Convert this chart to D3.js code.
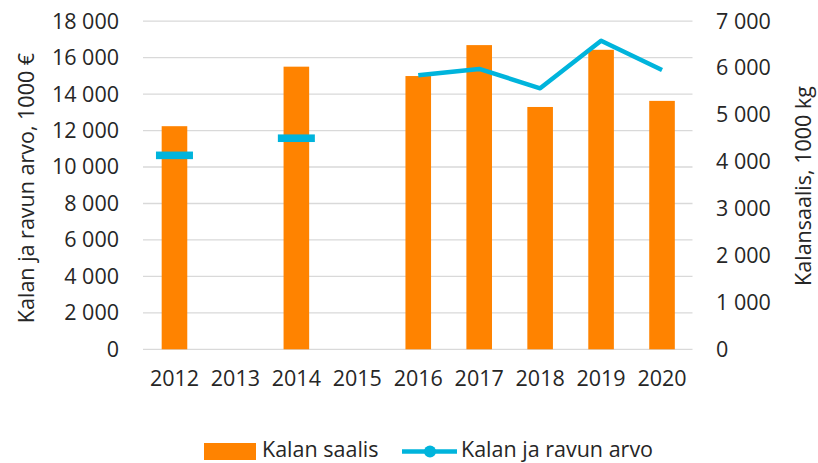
<!DOCTYPE html>
<html lang="fi">
<head>
<meta charset="utf-8">
<title>Kalan saalis ja arvo</title>
<script src="https://d3js.org/d3.v7.min.js"></script>
<style>
  body { margin: 0; background: #fff; }
  text { font-family: "Open Sans", "Noto Sans", sans-serif; fill: #262626; }
</style>
</head>
<body>
<div id="chart"></div>
<script>
// data
var years = ["2012", "2013", "2014", "2015", "2016", "2017", "2018", "2019", "2020"];
var catch1000kg = [4760, null, 6030, null, 5830, 6490, 5170, 6390, 5300];   // Kalan saalis (right axis)
var value1000eur = [10640, null, 11580, null, 15030, 15380, 14320, 16930, 15320]; // Kalan ja ravun arvo (left axis)
var leftTicks = [0, 2000, 4000, 6000, 8000, 10000, 12000, 14000, 16000, 18000];
var rightTicks = [0, 1000, 2000, 3000, 4000, 5000, 6000, 7000];

var width = 818, height = 463;
var orange = "#ff8300", blue = "#00b4dc";
var fs = "21.5px";

var svg = d3.select("#chart").append("svg")
  .attr("width", width).attr("height", height);

var x = d3.scaleBand().domain(years).range([144, 692.5]).paddingInner(0.58).paddingOuter(0.29);
var yL = d3.scaleLinear().domain([0, 18000]).range([349.3, 21.2]);
var yR = d3.scaleLinear().domain([0, 7000]).range([349.3, 21.2]);

var fmt = function (d) { return d3.format(",")(d).replace(/,/g, " "); };

// gridlines
svg.append("g").selectAll("line").data(leftTicks).enter().append("line")
  .attr("x1", 143).attr("x2", 692.5)
  .attr("y1", function (d) { return yL(d); }).attr("y2", function (d) { return yL(d); })
  .attr("stroke", "#d9d9d9").attr("stroke-width", 1.3);

// left axis
var gl = svg.append("g").attr("transform", "translate(119,0)")
  .call(d3.axisLeft(yL).tickValues(leftTicks).tickFormat(fmt).tickSize(0).tickPadding(0));
gl.select(".domain").remove();
gl.selectAll("text").style("font-size", fs).attr("fill", "#262626");

// right axis
var gr = svg.append("g").attr("transform", "translate(716,0)")
  .call(d3.axisRight(yR).tickValues(rightTicks).tickFormat(fmt).tickSize(0).tickPadding(0));
gr.select(".domain").remove();
gr.selectAll("text").style("font-size", fs).attr("fill", "#262626");

// x axis labels
var gx = svg.append("g").attr("transform", "translate(0,371)")
  .call(d3.axisBottom(x).tickSize(0).tickPadding(0));
gx.select(".domain").remove();
gx.selectAll("text").style("font-size", fs).attr("fill", "#262626");

// bars
svg.append("g").selectAll("rect")
  .data(years.map(function (y, i) { return { year: y, v: catch1000kg[i] }; }).filter(function (d) { return d.v != null; }))
  .enter().append("rect")
  .attr("x", function (d) { return x(d.year); })
  .attr("width", x.bandwidth())
  .attr("y", function (d) { return yR(d.v); })
  .attr("height", function (d) { return yR(0) - yR(d.v); })
  .attr("fill", orange);

// line
var pts = years.map(function (y, i) { return { year: y, v: value1000eur[i] }; });
var cx = function (d) { return x(d.year) + x.bandwidth() / 2; };
var line = d3.line().defined(function (d) { return d.v != null; })
  .x(cx).y(function (d) { return yL(d.v); });
svg.append("path").datum(pts)
  .attr("d", line).attr("fill", "none")
  .attr("stroke", blue).attr("stroke-width", 4.5).attr("stroke-linejoin", "round");

// isolated points drawn as short dashes
var lone = pts.filter(function (d, i) {
  return d.v != null && (i == 0 || pts[i - 1].v == null) && (i == pts.length - 1 || pts[i + 1].v == null);
});
svg.append("g").selectAll("rect").data(lone).enter().append("rect")
  .attr("x", function (d) { return cx(d) - 18.5; })
  .attr("y", function (d) { return yL(d.v) - 3.8; })
  .attr("width", 37).attr("height", 7.6)
  .attr("fill", blue);

// axis titles
svg.append("text")
  .attr("transform", "translate(34,188) rotate(-90)")
  .attr("text-anchor", "middle").style("font-size", fs)
  .text("Kalan ja ravun arvo, 1000 €");
svg.append("text")
  .attr("transform", "translate(811,186) rotate(-90)")
  .attr("text-anchor", "middle").style("font-size", fs)
  .text("Kalansaalis, 1000 kg");

// legend
var lg = svg.append("g");
lg.append("rect").attr("x", 204).attr("y", 443).attr("width", 52).attr("height", 17).attr("fill", orange);
lg.append("text").attr("x", 262).attr("y", 457).style("font-size", fs).text("Kalan saalis");
lg.append("line").attr("x1", 402).attr("x2", 457).attr("y1", 451.5).attr("y2", 451.5)
  .attr("stroke", blue).attr("stroke-width", 4.5);
lg.append("circle").attr("cx", 430).attr("cy", 451.5).attr("r", 6).attr("fill", blue);
lg.append("text").attr("x", 461).attr("y", 457).style("font-size", fs).text("Kalan ja ravun arvo");
</script>
</body>
</html>
